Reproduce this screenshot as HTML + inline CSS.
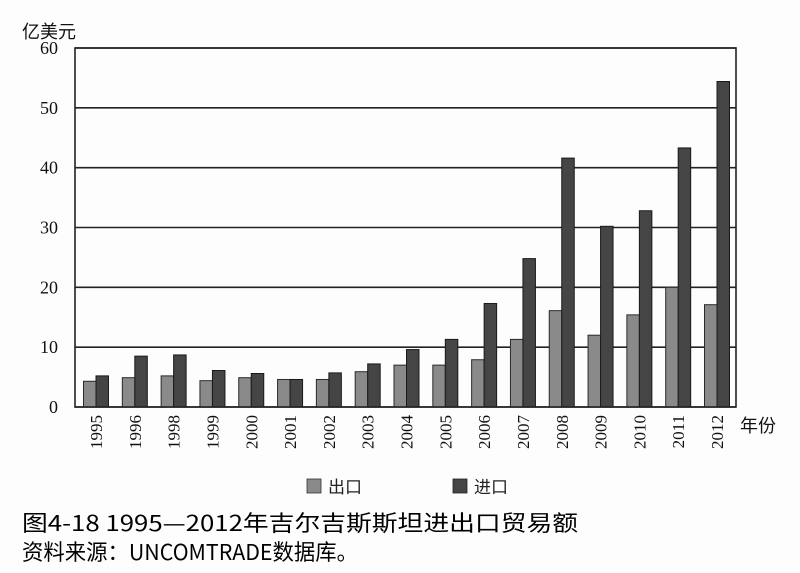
<!DOCTYPE html>
<html><head><meta charset="utf-8"><style>
body{margin:0;background:#fff;}
svg{display:block;}
</style></head><body>
<svg id="chart" width="800" height="573" viewBox="0 0 800 573" xmlns="http://www.w3.org/2000/svg">
<rect x="0" y="0" width="800" height="573" fill="#fdfdfd"/>
<g id="grid"></g>
<g id="bars"></g>
<g id="axes"></g>
<text x="22" y="38" font-family="'Liberation Sans','Noto Sans CJK SC',sans-serif" font-size="18" fill="#111">亿美元</text>
<text x="740" y="432" font-family="'Liberation Sans','Noto Sans CJK SC',sans-serif" font-size="18" fill="#111">年份</text>
<g>
<rect x="307" y="479" width="14" height="14" fill="#8a8a8a" stroke="#333" stroke-width="0.8"/>
<text x="328" y="493" font-family="'Liberation Sans','Noto Sans CJK SC',sans-serif" font-size="17" fill="#222">出口</text>
<rect x="453" y="479" width="14" height="14" fill="#454545" stroke="#222" stroke-width="0.8"/>
<text x="474" y="493" font-family="'Liberation Sans','Noto Sans CJK SC',sans-serif" font-size="17" fill="#222">进口</text>
</g>
<text x="22" y="531" font-family="'Noto Sans CJK SC',sans-serif" font-size="22" fill="#000" textLength="556" lengthAdjust="spacingAndGlyphs">图4-18   1995—2012年吉尔吉斯斯坦进出口贸易额</text>
<text x="22" y="560" font-family="'Noto Sans CJK SC',sans-serif" font-size="22" fill="#000" textLength="336" lengthAdjust="spacingAndGlyphs">资料来源：UNCOMTRADE数据库。</text>
</svg>
<script>
const years=["1995","1996","1998","1999","2000","2001","2002","2003","2004","2005","2006","2007","2008","2009","2010","2011","2012"];
const exportsVals=[4.3,4.9,5.2,4.4,4.9,4.6,4.6,5.9,7.0,7.0,7.9,11.3,16.1,12.0,15.4,20.0,17.1];
const importsVals=[5.2,8.5,8.7,6.1,5.6,4.6,5.7,7.2,9.6,11.3,17.3,24.8,41.6,30.2,32.8,43.3,54.4];
const yTicks=[0,10,20,30,40,50,60];
const NS="http://www.w3.org/2000/svg";
const L=75,R=736,T=48,B=407,YMAX=60;
const y=v=>B-(v/YMAX)*(B-T);
const first=96,step=(717-96)/(years.length-1),bw=12.5;
const xc=i=>first+i*step;
function mk(tag,attrs,parent){const e=document.createElementNS(NS,tag);for(const k in attrs)e.setAttribute(k,attrs[k]);parent.appendChild(e);return e;}
const grid=document.getElementById('grid'),bars=document.getElementById('bars'),axes=document.getElementById('axes');
yTicks.forEach(t=>{
  const ln=mk('line',{x1:L,x2:R,y1:y(t),y2:y(t),stroke:'#222','stroke-width':1.6},grid);
  
  
  const tx=mk('text',{x:58,y:y(t)+6,'text-anchor':'end','font-family':"'Liberation Serif',serif",'font-size':18,fill:'#111'},axes);
  tx.textContent=t;
  
  
});
years.forEach((yr,i)=>{
  const c=xc(i);
  const e=mk('rect',{x:c-bw,y:y(exportsVals[i]),width:bw,height:B-y(exportsVals[i]),fill:'#8a8a8a',stroke:'#2a2a2a','stroke-width':1},bars);
  
  
  const m=mk('rect',{x:c,y:y(importsVals[i]),width:bw,height:B-y(importsVals[i]),fill:'#454545',stroke:'#1a1a1a','stroke-width':1},bars);
  
  
  const tx=mk('text',{x:0,y:0,'text-anchor':'end','font-family':"'Liberation Serif',serif",'font-size':17,fill:'#111',transform:'translate('+(c+6)+',415) rotate(-90)'},axes);
  tx.textContent=yr;
  
  
});
const fr=mk('rect',{x:L,y:T,width:R-L,height:B-T,fill:'none',stroke:'#222','stroke-width':1.6},axes);


</script>
</body></html>
